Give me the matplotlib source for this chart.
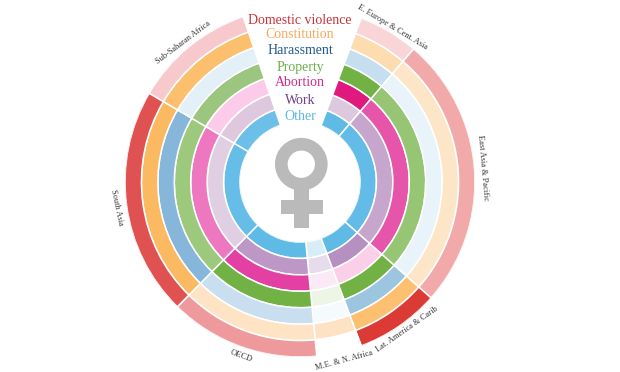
import numpy as np
import matplotlib
matplotlib.use("Agg")
import matplotlib.pyplot as plt
from matplotlib.patches import Circle, Rectangle

W, H = 620, 372
CX, CY = 300, 182
R_OUT, R_IN = 175, 60

regions = ["E. Europe & Cent. Asia", "East Asia & Pacific", "Lat. America & Carib",
           "M.E. & N. Africa", "OECD", "South Asia", "Sub-Saharan Africa"]
region_share = [20, 91, 28, 15, 50, 76, 40.5]
start_angle = 20.5

topics = ["Domestic violence", "Constitution", "Harassment", "Property", "Abortion", "Work", "Other"]
topic_colors = ["#c8323a", "#f5a95a", "#1f5a8c", "#6fae4c", "#d32a8a", "#6f3f8f", "#5cb7e3"]

# one list per ring, inner to outer, one cell colour per region
other    = ["#5fbbe6", "#62bce7", "#5fbae6", "#d7edf8", "#5fbbe6", "#65bde8", "#6cbfe8"]
work     = ["#dcc9e0", "#c6a6cd", "#b590c0", "#e7dcec", "#bd98c7", "#e0cfe3", "#dfc8de"]
abortion = ["#e0197f", "#e755ab", "#fbcfe8", "#fbeaf6", "#e43fa2", "#ee78bf", "#fccbe9"]
prop     = ["#72b244", "#96c574", "#72b244", "#ecf5e6", "#72b244", "#9dc97c", "#9cc67f"]
harass   = ["#c5dfee", "#e8f3fa", "#9cc5e0", "#f5fafd", "#c9dfef", "#86b6da", "#e3f0f8"]
constit  = ["#fddcb0", "#fde6c8", "#fcc070", "#fde3c4", "#fee3c4", "#fbb961", "#fbbf6d"]
domestic = ["#f9d5d8", "#f2a9aa", "#dc3a35", "#ffffff", "#ee9a9c", "#e05252", "#f7c8cc"]
rings = [other, work, abortion, prop, harass, constit, domestic]

fig = plt.figure(figsize=(W / 100, H / 100), dpi=100, facecolor="white")
ax = fig.add_axes([(CX - R_OUT) / W, 1 - (CY + R_OUT) / H, 2 * R_OUT / W, 2 * R_OUT / H],
                  projection="polar")
ax.set_theta_zero_location("N")
ax.set_theta_direction(-1)
n = len(rings)
pitch = (R_OUT - R_IN) / n
ax.set_rorigin(-R_IN / pitch)
ax.set_rlim(0, n)
ax.axis("off")

spans = np.radians(region_share)
starts = np.radians(start_angle) + np.concatenate([[0], np.cumsum(spans)[:-1]])
for i, ring in enumerate(rings):
    ax.bar(starts, 1, width=spans, bottom=i, align="edge", color=ring,
           edgecolor="white", linewidth=1.1)

# overlay in pixel coordinates for the symbol and labels
ov = fig.add_axes([0, 0, 1, 1])
ov.set_xlim(0, W)
ov.set_ylim(H, 0)
ov.axis("off")
ov.patch.set_alpha(0)

grey = "#bababa"
ov.add_patch(Circle((301.3, 164.2), 20, fill=False, edgecolor=grey, linewidth=9.1))
ov.add_patch(Rectangle((294.3, 188), 14.7, 39.7, color=grey, lw=0))
ov.add_patch(Rectangle((280.7, 200), 42.6, 14.3, color=grey, lw=0))

serif = ["Liberation Serif", "DejaVu Serif"]
topic_y = [20, 35, 51, 67, 83, 100, 116]
for t, c, y in zip(topics, topic_colors, topic_y):
    ov.text(300, y, t, color=c, fontsize=10, family=serif, ha="center", va="center")

label_x = [392, 483, 407, 344, 241, 117, 183]
label_y = [27, 168, 329, 360, 356, 208, 43]
label_rot = [-31, -85, 35, 15, -20, -78, 37]
for t, x, y, r in zip(regions, label_x, label_y, label_rot):
    ov.text(x, y, t, color="#333333", fontsize=6.0, family=serif, ha="center", va="center",
            rotation=r, rotation_mode="anchor")

fig.savefig("out.png", dpi=100, facecolor="white")
